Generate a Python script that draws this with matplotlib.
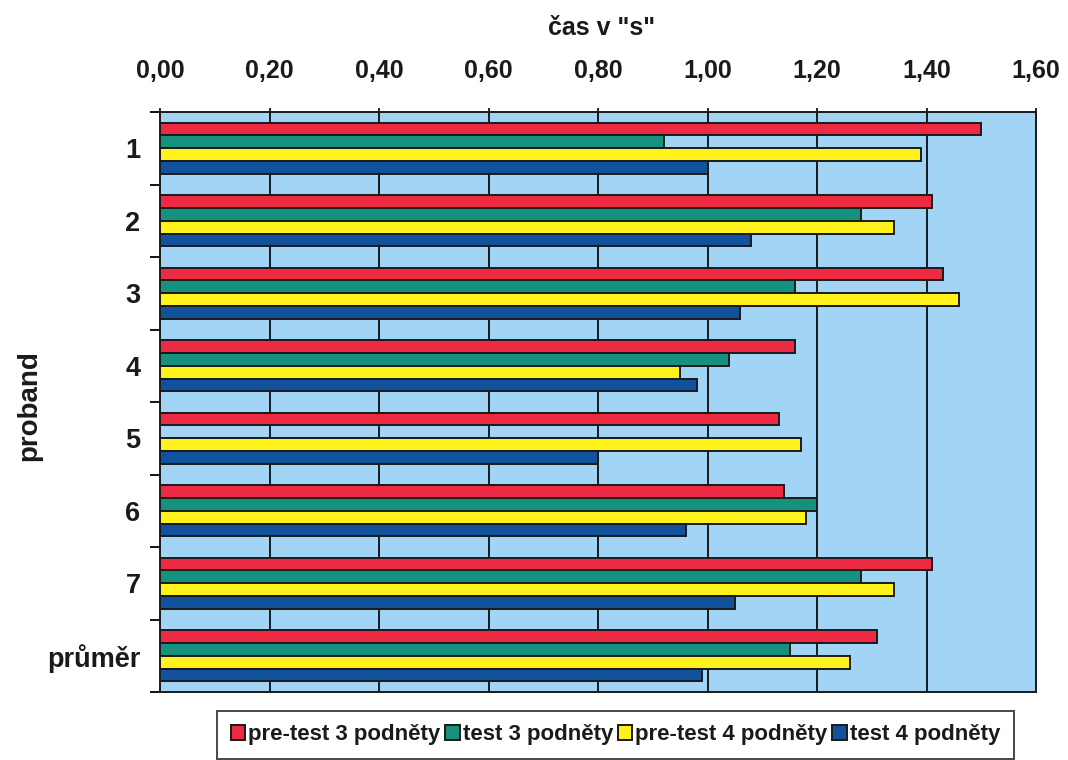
import numpy as np
import matplotlib
matplotlib.use("Agg")
import matplotlib.pyplot as plt
from matplotlib.ticker import FixedLocator, FuncFormatter
from matplotlib import font_manager

plt.rcParams['font.family'] = ['Liberation Sans', 'DejaVu Sans']
plt.rcParams['font.weight'] = 'bold'

# Reaction times (s) per participant and the group average
proband = ['1', '2', '3', '4', '5', '6', '7', 'průměr']
pretest_3 = [1.50, 1.41, 1.43, 1.16, 1.13, 1.14, 1.41, 1.31]
test_3 = [0.92, 1.28, 1.16, 1.04, np.nan, 1.20, 1.28, 1.15]
pretest_4 = [1.39, 1.34, 1.46, 0.95, 1.17, 1.18, 1.34, 1.26]
test_4 = [1.00, 1.08, 1.06, 0.98, 0.80, 0.96, 1.05, 0.99]

series_labels = ['pre-test 3 podněty', 'test 3 podněty',
                 'pre-test 4 podněty', 'test 4 podněty']
series = [pretest_3, test_3, pretest_4, test_4]
colors = ['#ec2a44', '#16917e', '#fff21c', '#12529c']

xticks = [0.0, 0.2, 0.4, 0.6, 0.8, 1.0, 1.2, 1.4, 1.6]

fig = plt.figure(figsize=(10.68, 7.6), dpi=100)
ax = fig.add_axes([160 / 1068, 1 - 692 / 760, 876 / 1068, 580 / 760])
ax.set_facecolor('#a2d4f6')

y = np.arange(len(proband))
bar_h = 0.177
offsets = (np.arange(4) - 1.5) * bar_h

handles = []
for vals, off, col, lab in zip(series, offsets, colors, series_labels):
    b = ax.barh(y + off, vals, height=bar_h, color=col, edgecolor='#1a1a1a',
                linewidth=1.4, label=lab, zorder=3)
    handles.append(b)

ax.set_xlim(0, 1.6)
ax.set_ylim(len(proband) - 0.5, -0.5)

# value axis on top with comma decimals
ax.xaxis.set_ticks_position('top')
ax.xaxis.set_label_position('top')
ax.set_xticks(xticks)
ax.xaxis.set_major_formatter(FuncFormatter(lambda v, p: f"{v:.2f}".replace('.', ',')))
ax.tick_params(axis='x', length=6, width=1.3, direction='inout', pad=18,
               labelsize=18, colors='#1a1a1a')
for v in xticks[1:-1]:
    ax.axvline(v, color='#1a1a1a', linewidth=1.4, zorder=1)

# category axis: labels centred, ticks between groups
ax.set_yticks(y)
ax.set_yticklabels(proband)
ax.tick_params(axis='y', which='major', length=0, pad=14, labelsize=19.5,
               colors='#1a1a1a')
ax.yaxis.set_minor_locator(FixedLocator(np.arange(-0.5, len(proband) + 0.5, 1)))
ax.tick_params(axis='y', which='minor', length=7, width=1.3, direction='out')

for s in ax.spines.values():
    s.set_linewidth(1.4)
    s.set_color('#1a1a1a')

fig.text(0.5637, 0.963, 'čas v "s"', ha='center', va='center',
         fontsize=18, fontweight='bold', color='#1a1a1a')
fig.text(0.027, 0.467, 'proband', ha='center', va='center', rotation=90,
         fontsize=20, fontweight='bold', color='#1a1a1a')

# condensed face for the legend entries, if available
installed = {f.name for f in font_manager.fontManager.ttflist}
legend_family = ['Liberation Sans Narrow', 'Liberation Sans', 'DejaVu Sans']
legend_size = 20 if 'Liberation Sans Narrow' in installed else 16

leg = fig.legend(handles=handles, labels=series_labels, ncol=4,
                 loc='center', bbox_to_anchor=(0.5763, 0.0329),
                 prop={'family': legend_family, 'size': legend_size,
                       'weight': 'bold'},
                 frameon=True, fancybox=False,
                 handlelength=0.65, handleheight=0.65, handletextpad=0.15,
                 columnspacing=0.2, borderpad=0.6, borderaxespad=0)
leg.get_frame().set_edgecolor('#1a1a1a')
leg.get_frame().set_linewidth(1.4)
for t in leg.get_texts():
    t.set_color('#1a1a1a')

fig.savefig('out.png', dpi=100)
